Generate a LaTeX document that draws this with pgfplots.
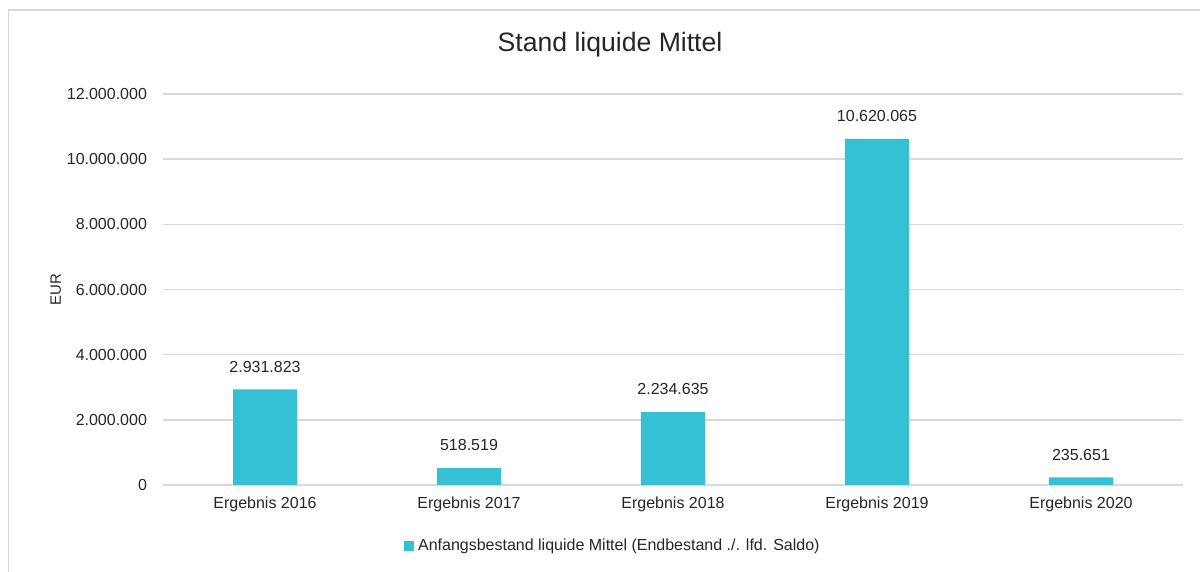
\documentclass[border=0pt]{standalone}
\usepackage{pgfplots}
\pgfplotsset{compat=1.18}
\usepackage{fontspec}
\setmainfont{Liberation Sans}
\definecolor{barcol}{HTML}{36C0D4}
\definecolor{gridcol}{HTML}{D9D9D9}
\definecolor{txtcol}{HTML}{262626}
\begin{document}
\begin{tikzpicture}
\useasboundingbox (0,0) rectangle (600pt,286pt);
% chart frame
\draw[gridcol, line width=0.8pt] (4.25pt,0pt) -- (4.25pt,281pt) -- (600pt,281pt);
\node[font=\fontsize{13.3}{16}\selectfont, text=txtcol] at (305pt,263.5pt) {Stand liquide Mittel};
\begin{axis}[
  at={(81.5pt,43.5pt)}, anchor=south west,
  scale only axis, width=510pt, height=195.5pt,
  xmin=-0.5, xmax=4.5, ymin=0, ymax=12000000,
  xtick=data,
  xticklabels={Ergebnis 2016,Ergebnis 2017,Ergebnis 2018,Ergebnis 2019,Ergebnis 2020},
  ytick={0,2000000,4000000,6000000,8000000,10000000,12000000},
  scaled y ticks=false,
  /pgf/number format/.cd, fixed, precision=0, 1000 sep={.}, assume math mode=true, /pgfplots/.cd,
  axis line style={draw=none},
  major tick length=0pt,
  ymajorgrids, grid style={gridcol, line width=0.75pt},
  tick label style={font=\fontsize{8}{9.6}\selectfont, text=txtcol},
  yticklabel style={xshift=-4.5pt},
  xticklabel style={yshift=-2.5pt},
  ylabel={EUR},
  every axis y label/.style={at={(ticklabel cs:0.5)}, rotate=90, anchor=south, yshift=-4pt,
    font=\fontsize{7.5}{9}\selectfont, text=txtcol},
  ybar, bar width=32pt,
  nodes near coords,
  every node near coord/.append style={font=\fontsize{8}{9.6}\selectfont, text=txtcol, yshift=5pt,
    /pgf/number format/.cd, fixed, precision=0, 1000 sep={.}, assume math mode=true},
  legend style={draw=none, fill=none, at={(0.442,-0.156)}, anchor=center,
    font=\fontsize{8}{9.6}\selectfont, text=txtcol, inner sep=0pt},
  legend image code/.code={\fill[barcol] (0pt,-2.5pt) rectangle (5pt,2.5pt);},
  legend cell align=left,
]
\addplot[fill=barcol, draw=none] coordinates {(0,2931823) (1,518519) (2,2234635) (3,10620065) (4,235651)};
\addlegendentry{Anfangsbestand liquide Mittel (Endbestand ./. lfd. Saldo)}
\end{axis}
\end{tikzpicture}
\end{document}
